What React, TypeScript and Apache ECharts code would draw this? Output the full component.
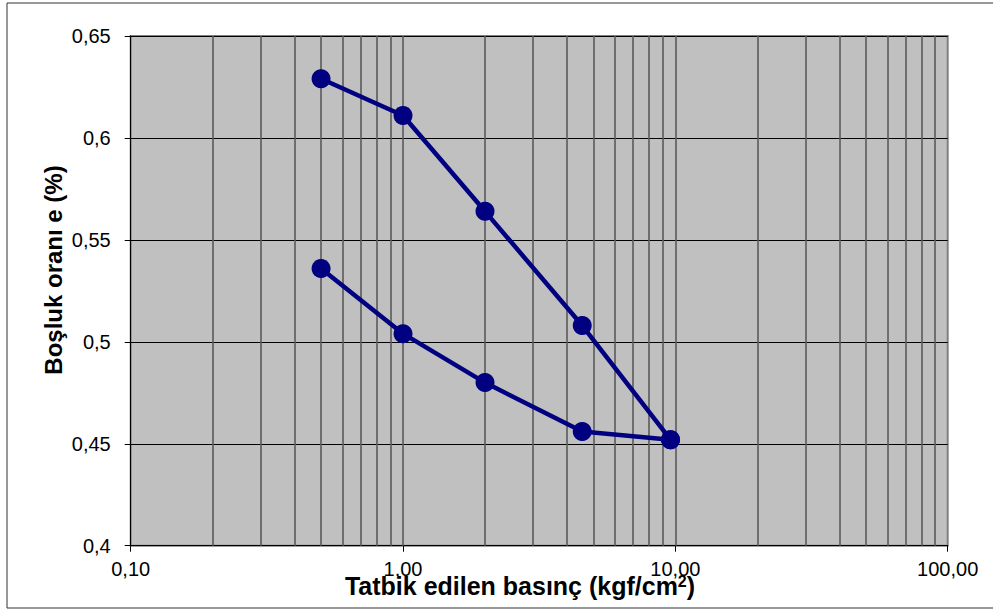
import React, { useEffect, useRef } from "react";
import * as echarts from "echarts";

const loadPressure = [0.5, 1.0, 2.0, 4.55, 9.6];
const loadVoid = [0.629, 0.611, 0.564, 0.508, 0.452];
const unloadPressure = [9.6, 4.55, 2.0, 1.0, 0.5];
const unloadVoid = [0.452, 0.456, 0.48, 0.504, 0.536];
const gridPressures = [
  0.2, 0.3, 0.4, 0.5, 0.6, 0.7, 0.8, 0.9, 1,
  2, 3, 4, 5, 6, 7, 8, 9, 10,
  20, 30, 40, 50, 60, 70, 80, 90,
];
const xTitle = "Tatbik edilen basınç (kgf/cm";
const yTitle = "Boşluk oranı e (%)";

const FONT = "'Liberation Sans', Arial, sans-serif";

export default function App() {
  const ref = useRef<HTMLDivElement>(null);
  useEffect(() => {
    if (!ref.current) return;
    const chart = echarts.init(ref.current, null, { renderer: "svg" });
    const lineColor = "#000080";
    chart.setOption({
      animation: false,
      backgroundColor: "#ffffff",
      textStyle: { fontFamily: FONT },
      grid: {
        left: 130.7,
        top: 36,
        right: 45.3,
        bottom: 69.3,
        show: true,
        backgroundColor: "#c0c0c0",
        borderColor: "#808080",
        borderWidth: 2,
      },
      xAxis: {
        type: "log",
        logBase: 10,
        min: 0.1,
        max: 100,
        axisLine: { show: true, onZero: false, lineStyle: { color: "#000", width: 1 } },
        axisTick: { show: true, inside: false, length: 6, lineStyle: { color: "#000" } },
        splitLine: { show: false },
        axisLabel: {
          color: "#000",
          fontSize: 20,
          fontFamily: FONT,
          margin: 13,
          formatter: (v: number) => v.toFixed(2).replace(".", ","),
        },
      },
      yAxis: {
        type: "value",
        min: 0.4,
        max: 0.65,
        interval: 0.05,
        axisLine: { show: true, lineStyle: { color: "#000", width: 1 } },
        axisTick: { show: true, length: 6, lineStyle: { color: "#000" } },
        splitLine: { show: true, lineStyle: { color: "#000", width: 1 } },
        axisLabel: {
          color: "#000",
          fontSize: 20,
          fontFamily: FONT,
          margin: 20,
          formatter: (v: number) => String(+v.toFixed(2)).replace(".", ","),
        },
      },
      graphic: [
        {
          type: "rect",
          shape: { x: 7, y: 3, width: 1010, height: 605 },
          style: { fill: "none", stroke: "#333", lineWidth: 1 },
          silent: true,
        },
        {
          type: "text",
          x: 520,
          y: 586,
          style: {
            text: xTitle + "{sup|2})",
            rich: {
              sup: { fontSize: 16, fontWeight: "bold", fontFamily: FONT, verticalAlign: "top", padding: [0, 0, 10, 0] },
            },
            fontSize: 25,
            fontWeight: "bold",
            fontFamily: FONT,
            fill: "#000",
            align: "center",
            verticalAlign: "middle",
          },
        },
        {
          type: "text",
          x: 53,
          y: 270,
          rotation: Math.PI / 2,
          style: {
            text: yTitle,
            fontSize: 24,
            fontWeight: "bold",
            fontFamily: FONT,
            fill: "#000",
            align: "center",
            verticalAlign: "middle",
          },
        },
      ],
      series: [
        {
          type: "line",
          data: [],
          silent: true,
          z: 1,
          markLine: {
            silent: true,
            symbol: "none",
            label: { show: false },
            lineStyle: { color: "#5a5a5a", width: 1.6, type: "solid" },
            data: gridPressures.map((p) => ({ xAxis: p })),
          },
        },
        {
          type: "line",
          data: loadPressure.map((p, i) => [p, loadVoid[i]]),
          symbol: "circle",
          symbolSize: 19,
          itemStyle: { color: lineColor },
          lineStyle: { color: lineColor, width: 4.5 },
          z: 5,
        },
        {
          type: "line",
          data: unloadPressure.map((p, i) => [p, unloadVoid[i]]),
          symbol: "circle",
          symbolSize: 19,
          itemStyle: { color: lineColor },
          lineStyle: { color: lineColor, width: 4.5 },
          z: 5,
        },
      ],
    });
    return () => chart.dispose();
  }, []);
  return (
    <div
      ref={ref}
      style={{ position: "fixed", left: 0, top: 0, width: 993, height: 615 }}
    />
  );
}
